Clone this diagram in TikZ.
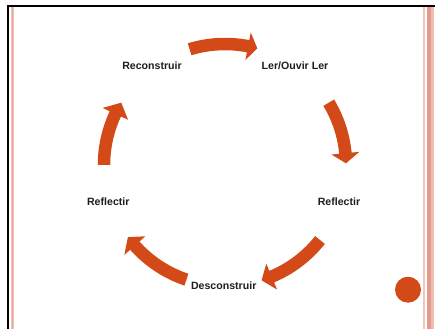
\documentclass[tikz,border=0pt]{standalone}
\usepackage{fontspec}
\setmainfont{Liberation Sans}
\definecolor{arrowor}{HTML}{D34A18}
\definecolor{pinkL}{HTML}{F2C4BC}
\definecolor{pinkD}{HTML}{E39A8C}
\definecolor{txt}{HTML}{1E1E1E}
\tikzset{
  lbl/.style={font=\fontsize{10.6}{12}\selectfont\bfseries, text=txt, inner sep=0pt},
  blockarrow/.style={fill=arrowor, draw=none}
}
% #1 tail angle, #2 head base angle, #3 tip angle
\newcommand{\curvedarrow}[3]{%
  \fill[blockarrow]
    ($(C)+(#1:\Ro)$) arc[start angle=#1, end angle=#2, radius=\Ro]
    -- ($(C)+(#2:\Wo)$) -- ($(C)+(#3:\Rm)$) -- ($(C)+(#2:\Wi)$)
    -- ($(C)+(#2:\Ri)$) arc[start angle=#2, end angle=#1, radius=\Ri] -- cycle;}
\usetikzlibrary{calc}
\begin{document}
\begin{tikzpicture}[x=1pt,y=1pt]
\useasboundingbox (0,0) rectangle (435,329);
\fill[white] (0,0) rectangle (435,329);
% frame
\fill[pinkL] (10.7,0) rectangle (14,323);
\fill[pinkD!70!pinkL] (11.8,0) rectangle (13,323);
\fill[pinkL] (422.7,0) rectangle (425,323);
\fill[pinkD] (426.7,0) rectangle (430.7,323);
\fill[pinkL!80!pinkD] (431,0) rectangle (434,323);
\fill[black] (7,322.3) rectangle (435,324.3);
\fill[black] (7,0) rectangle (9,324.3);
% centre of the cycle
\coordinate (C) at (225,164);
\def\Rm{121}\def\Ro{127.25}\def\Ri{114.75}\def\Wo{135}\def\Wi{107}
\curvedarrow{107}{79}{74.5}
\curvedarrow{31}{5.6}{0.8}
\curvedarrow{-38.3}{-67.3}{-72.4}
\curvedarrow{-108.6}{-138.2}{-143.4}
\curvedarrow{180}{155}{149}
% labels
\node[lbl] (recon) at (152,263.3) {Reconstruir};
\node[lbl] (ler) at (295,263) {Ler/Ouvir Ler};
\node[lbl] (refr) at (339,127.3) {Reflectir};
\node[lbl] (desc) at (223.7,43.3) {Desconstruir};
\node[lbl] (refl) at (108.3,127.3) {Reflectir};
% dot
\fill[arrowor] (408,39.3) circle (13);
\end{tikzpicture}
\end{document}
